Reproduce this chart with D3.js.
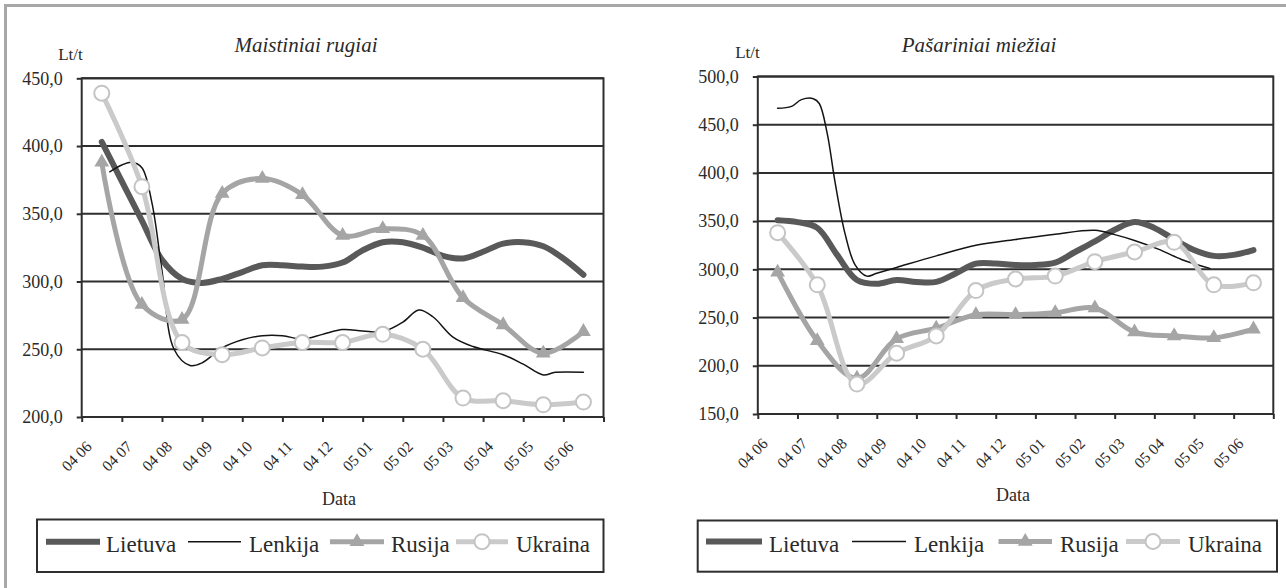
<!DOCTYPE html>
<html><head><meta charset="utf-8">
<script src="https://cdn.jsdelivr.net/npm/d3@7/dist/d3.min.js"></script>
<style>
html,body{margin:0;padding:0;background:#fff;}
svg{display:block;}
text{font-family:"Liberation Serif","DejaVu Serif",serif;fill:#2a2a2a;}
</style></head><body>
<svg id="c" width="1286" height="588"></svg>
<script>
// ---------------- DATA ----------------
const categories = ["04 06","04 07","04 08","04 09","04 10","04 11","04 12","05 01","05 02","05 03","05 04","05 05","05 06"];
const seriesNames = ["Lietuva","Lenkija","Rusija","Ukraina"];
const monthIndex = [0,1,2,3,4,5,6,7,8,9,10,11,12];
const halfMonths = [0,0.5,1,1.5,2,2.5,3,3.5,4,4.5,5,5.5,6,6.5,7,7.5,8,8.5,9,9.5,10,10.5,11,11.5,12];

const ryeTitle = "Maistiniai rugiai";
const ryeTicks = [200,250,300,350,400,450];
const ryeLietuva = [403,374,345,316,302,299,302,307,312,312,311,311,314,323,329,329,325,319,317,322,328,329,326,317,305];
const ryeLenkijaT = [0.2,0.5,0.75,1,1.25,1.5,1.8,2.2,2.5,3,3.5,4,4.5,5,5.5,6,6.5,7,7.5,7.9,8.25,8.75,9.25,10,10.5,11,11.3,12];
const ryeLenkija = [381,386,388,384,358,308,250,238,240,251,257,260,260,257.5,261,264.5,263.5,263,270,279,274,259,252,246,239,231,233,233];
const ryeRusija = [388,283,272,365,376,364,334,339,334,288,268,247,263];
const ryeUkraina = [439,370,255,246,251,255,255,261,250,214,212,209,211];

const barleyTitle = "Pašariniai miežiai";
const barleyTicks = [150,200,250,300,350,400,450,500];
const barleyLietuva = [351,349,343,315,289,285,289,287,287,296,306,306,304.5,304.5,307,318,329,341,349,343,331,320,314,315,320];
const barleyLenkijaT = [0,0.35,0.6,0.9,1.05,1.25,1.45,1.7,1.95,2.25,2.5,3,4,5,6,7,8,8.5,9,9.6,10.2,10.9];
const barleyLenkija = [467,469,476,477,472,441,390,337,305,293,296,302,314,325,331,336.5,340.5,336,330,321,310,301];
const barleyRusija = [297,226,187,228,239,253,253,255,260,235,231,229,238];
const barleyUkraina = [338,284,181,213,231,278,290,293,308,318,328,284,286];

const unitLabel = "Lt/t";
const xTitle = "Data";

// ---------------- STYLE ----------------
const FONT = '"Liberation Serif","DejaVu Serif",serif';
const styles = {
  Lietuva: {color:"#595959", width:6},
  Lenkija: {color:"#141414", width:1.5},
  Rusija:  {color:"#a5a5a5", width:5, marker:"triangle"},
  Ukraina: {color:"#cacaca", width:5, marker:"circle"}
};
const gridColor = "#2e2e2e";

const svg = d3.select("#c");

// outer grey frame (top + left)
svg.append("path").attr("d","M5.5,588 L5.5,5.5 L1286,5.5")
  .attr("fill","none").attr("stroke","#a8a8a8").attr("stroke-width",3);

function drawChart(cfg) {
  const {x0,x1,yTop,yBot} = cfg.plot;
  const g = svg.append("g");
  const x = d3.scaleLinear().domain([-0.5, categories.length-0.5]).range([x0,x1]);
  const xb = d3.scaleBand().domain(categories).range([x0,x1]);
  const y = d3.scaleLinear().domain(cfg.domain).range([yBot,yTop]);

  // gridlines
  g.append("g").selectAll("line").data(cfg.ticks).join("line")
    .attr("x1",x0).attr("x2",x1).attr("y1",d=>y(d)).attr("y2",d=>y(d))
    .attr("stroke",gridColor).attr("stroke-width",2);

  // plot border
  g.append("rect").attr("x",x0).attr("y",yTop).attr("width",x1-x0).attr("height",yBot-yTop)
    .attr("fill","none").attr("stroke",gridColor).attr("stroke-width",2);

  // y axis
  const ya = g.append("g").attr("transform",`translate(${x0},0)`)
    .call(d3.axisLeft(y).tickValues(cfg.ticks).tickSize(5).tickPadding(14)
      .tickFormat(d=>d3.format(".1f")(d).replace(".",",")));
  ya.select(".domain").remove();
  ya.selectAll(".tick line").attr("stroke",gridColor).attr("stroke-width",2);
  ya.selectAll(".tick text").attr("font-size",18).attr("fill","#2a2a2a");

  // x tick marks at category boundaries
  const xt = g.append("g").attr("transform",`translate(0,${yBot})`)
    .call(d3.axisBottom(x).tickValues(d3.range(-0.5, categories.length, 1)).tickSize(5).tickFormat(""));
  xt.select(".domain").remove();
  xt.selectAll(".tick line").attr("stroke",gridColor).attr("stroke-width",2);

  // x labels
  const xl = g.append("g").attr("transform",`translate(0,${yBot})`)
    .call(d3.axisBottom(xb).tickSize(0));
  xl.select(".domain").remove();
  xl.selectAll(".tick text").attr("font-size",15.5).attr("fill","#2a2a2a")
    .attr("text-anchor","end").attr("x",0).attr("y",0).attr("dy",0)
    .attr("transform","translate(-9,30.5) rotate(-45)");

  // titles
  g.append("text").attr("x",cfg.titleX).attr("y",cfg.titleY).attr("text-anchor","middle")
    .attr("font-size",21).attr("font-style","italic").text(cfg.title);
  g.append("text").attr("x",cfg.unitX).attr("y",cfg.unitY).attr("text-anchor","middle")
    .attr("font-size",17).text(unitLabel);
  g.append("text").attr("x",cfg.dataX).attr("y",cfg.dataY).attr("text-anchor","middle")
    .attr("font-size",18).text(xTitle);

  // lines
  const line = d3.line().x(d=>x(d[0])).y(d=>y(d[1])).curve(d3.curveCatmullRom.alpha(0.5));
  const series = [
    {name:"Lietuva", pts:d3.zip(halfMonths, cfg.lietuva)},
    {name:"Lenkija", pts:d3.zip(cfg.lenkijaT, cfg.lenkija)},
    {name:"Rusija",  pts:d3.zip(monthIndex, cfg.rusija)},
    {name:"Ukraina", pts:d3.zip(monthIndex, cfg.ukraina)}
  ];
  series.forEach(s=>{
    const st = styles[s.name];
    const sg = g.append("g");
    sg.append("path").attr("d",line(s.pts)).attr("fill","none")
      .attr("stroke",st.color).attr("stroke-width",st.width)
      .attr("stroke-linejoin","round").attr("stroke-linecap","round");
    if (st.marker==="triangle") {
      sg.selectAll("path.m").data(s.pts).join("path").attr("class","m")
        .attr("d",d3.symbol(d3.symbolTriangle).size(95)())
        .attr("transform",d=>`translate(${x(d[0])},${y(d[1])})`)
        .attr("fill",st.color);
    } else if (st.marker==="circle") {
      sg.selectAll("circle").data(s.pts).join("circle")
        .attr("cx",d=>x(d[0])).attr("cy",d=>y(d[1])).attr("r",7.5)
        .attr("fill","#fff").attr("stroke","#c4c4c4").attr("stroke-width",2);
    }
  });

  // legend
  const L = cfg.legend;
  const lg = g.append("g");
  lg.append("rect").attr("x",L.x).attr("y",L.y).attr("width",L.w).attr("height",L.h)
    .attr("fill","#fff").attr("stroke",gridColor).attr("stroke-width",2);
  seriesNames.forEach((name,i)=>{
    const it = L.items[i], st = styles[name];
    lg.append("line").attr("x1",it[0]).attr("x2",it[1]).attr("y1",L.lineY).attr("y2",L.lineY)
      .attr("stroke",st.color).attr("stroke-width",st.width);
    const cx = (it[0]+it[1])/2;
    if (st.marker==="triangle") {
      lg.append("path").attr("d",d3.symbol(d3.symbolTriangle).size(95)())
        .attr("transform",`translate(${cx},${L.lineY})`).attr("fill",st.color);
    } else if (st.marker==="circle") {
      lg.append("circle").attr("cx",cx).attr("cy",L.lineY).attr("r",7.5)
        .attr("fill","#fff").attr("stroke","#c4c4c4").attr("stroke-width",2);
    }
    lg.append("text").attr("x",it[2]).attr("y",L.textY).attr("font-size",23).text(name);
  });
}

drawChart({
  plot:{x0:81.7,x1:603.5,yTop:78.3,yBot:417},
  domain:[200,450], ticks:ryeTicks, title:ryeTitle,
  titleX:306, titleY:52, unitX:70.5, unitY:60, dataX:339, dataY:505,
  lietuva:ryeLietuva, lenkijaT:ryeLenkijaT, lenkija:ryeLenkija, rusija:ryeRusija, ukraina:ryeUkraina,
  legend:{x:37,y:519.5,w:566.5,h:52.5,lineY:541.7,textY:552,
    items:[[46,100,106],[188,241,249],[330,384,391],[456,508,516]]}
});
drawChart({
  plot:{x0:757.8,x1:1273.3,yTop:76.5,yBot:414},
  domain:[150,500], ticks:barleyTicks, title:barleyTitle,
  titleX:979, titleY:52, unitX:747.5, unitY:58, dataX:1013, dataY:501,
  lietuva:barleyLietuva, lenkijaT:barleyLenkijaT, lenkija:barleyLenkija, rusija:barleyRusija, ukraina:barleyUkraina,
  legend:{x:697.7,y:520.5,w:579.3,h:51.2,lineY:541.5,textY:552,
    items:[[706,762,769],[852,906,914],[998.5,1052,1060],[1126,1180,1188]]}
});

// force the serif face on every text node (inline style beats axis attributes)
svg.selectAll("text").style("font-family", FONT);
</script>
</body></html>
